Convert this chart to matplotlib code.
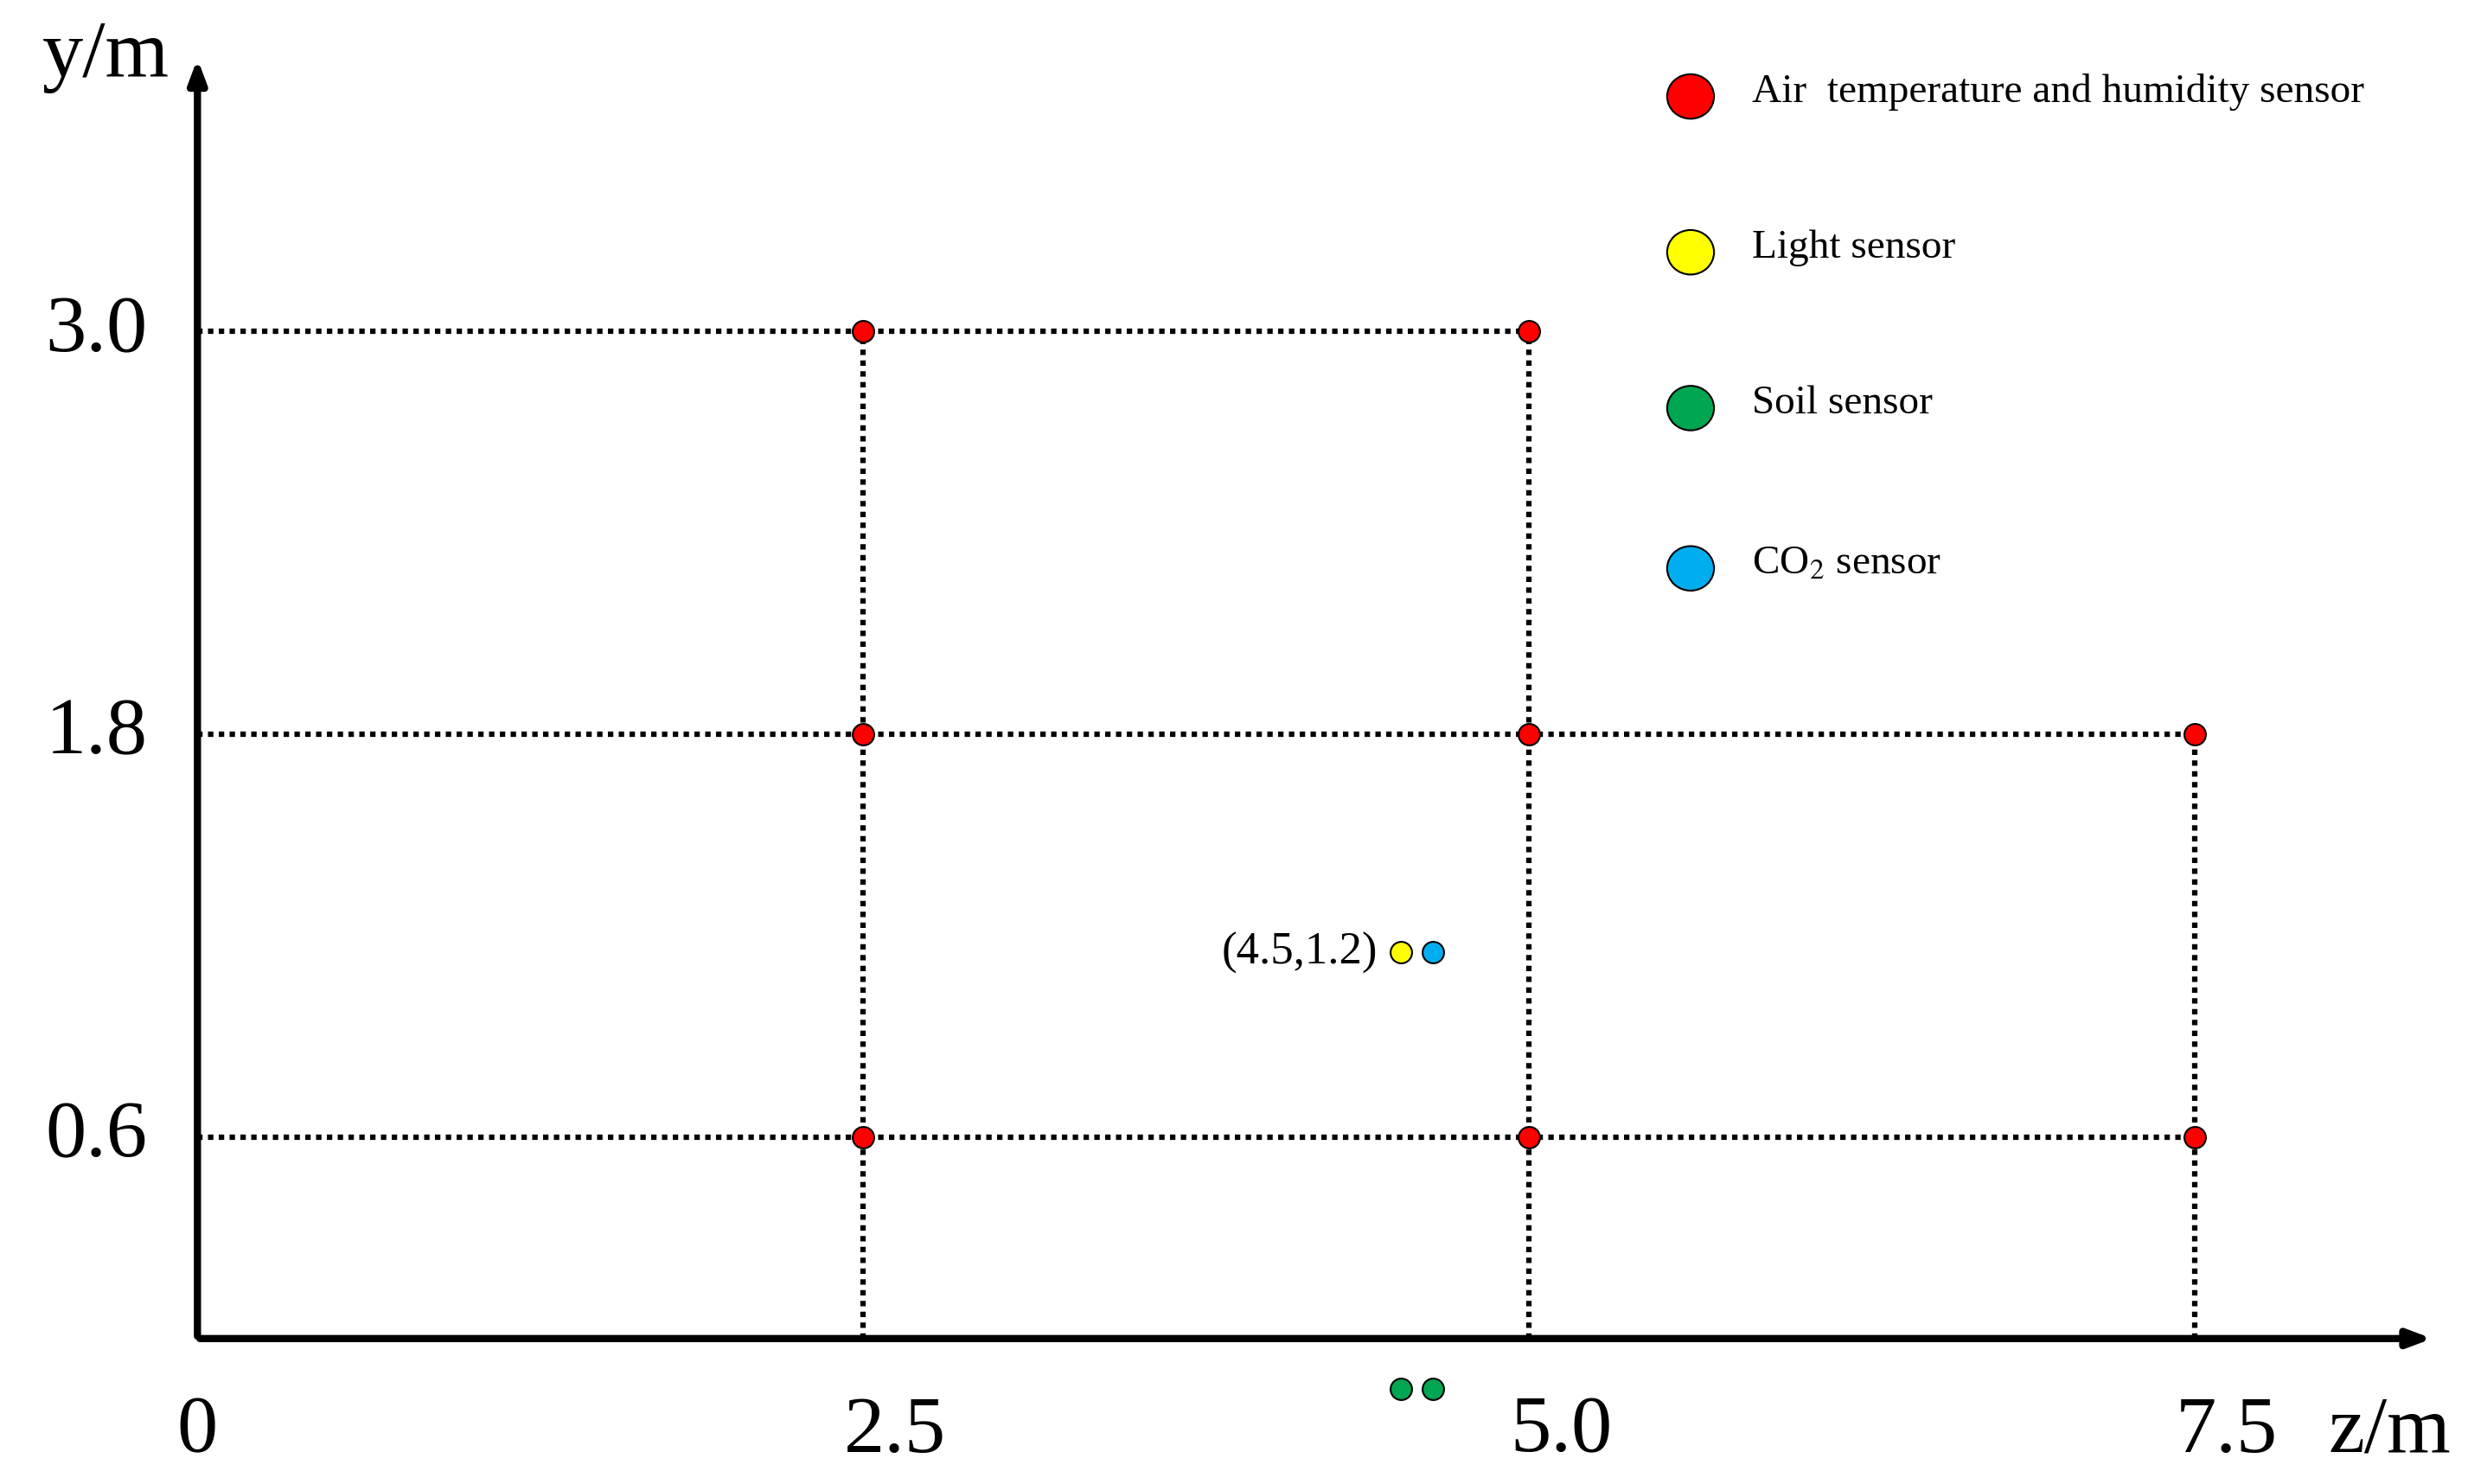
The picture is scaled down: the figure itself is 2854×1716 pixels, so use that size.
import matplotlib
matplotlib.use("Agg")
import matplotlib.pyplot as plt

plt.rcParams['font.family'] = ['Liberation Serif', 'DejaVu Serif']
plt.rcParams['mathtext.fontset'] = 'stix'

z_ticks = [0, 2.5, 5.0, 7.5]
z_labels = ["0", "2.5", "5.0", "7.5"]
y_ticks = [0.6, 1.8, 3.0]
y_labels = ["0.6", "1.8", "3.0"]
air_z = [2.5, 5.0, 2.5, 5.0, 7.5, 2.5, 5.0, 7.5]
air_y = [3.0, 3.0, 1.8, 1.8, 1.8, 0.6, 0.6, 0.6]
light_pt = (4.52, 1.15)
co2_pt = (4.64, 1.15)
soil_z = [4.52, 4.64]
soil_y = [-0.15, -0.15]
legend_labels = ["Air  temperature and humidity sensor", "Light sensor", "Soil sensor", "CO$_2$ sensor"]
legend_colors = ["#ff0000", "#ffff00", "#00a651", "#00aeef"]

fig = plt.figure(figsize=(28.54, 17.16), dpi=100)
ax = fig.add_axes([0.08, 0.098, 0.9, 0.855])
ax.set_xlim(0, 8.34)
ax.set_ylim(0, 3.78)
ax.axis('off')

ax.annotate("", xy=(8.4, 0), xytext=(0, 0), annotation_clip=False,
            arrowprops=dict(arrowstyle="-|>,head_length=1.6,head_width=0.6", lw=6, color="black"))
ax.annotate("", xy=(0, 3.82), xytext=(0, 0), annotation_clip=False,
            arrowprops=dict(arrowstyle="-|>,head_length=1.6,head_width=0.6", lw=6, color="black"))

ls = dict(color="black", lw=4.5, ls=(0, (1.0, 1.0)))
ax.plot([0, 5.0], [3.0, 3.0], **ls)
ax.plot([0, 7.5], [1.8, 1.8], **ls)
ax.plot([0, 7.5], [0.6, 0.6], **ls)
ax.plot([2.5, 2.5], [0, 3.0], **ls)
ax.plot([5.0, 5.0], [0, 3.0], **ls)
ax.plot([7.5, 7.5], [0, 1.8], **ls)

ax.scatter(air_z, air_y, s=320, c=legend_colors[0], edgecolors="black", linewidths=1.5, zorder=5)
ax.scatter([light_pt[0]], [light_pt[1]], s=320, c=legend_colors[1], edgecolors="black", linewidths=1.5, zorder=5)
ax.scatter([co2_pt[0]], [co2_pt[1]], s=320, c=legend_colors[3], edgecolors="black", linewidths=1.5, zorder=5)
ax.scatter(soil_z, soil_y, s=320, c=legend_colors[2], edgecolors="black", linewidths=1.5, zorder=5, clip_on=False)
ax.text(light_pt[0] - 0.09, light_pt[1], "(4.5,1.2)", fontsize=38, ha="right", va="center")

for v, lab in zip(z_ticks, z_labels):
    ax.text(v + (0.12 if v > 0 else 0), -0.17, lab, fontsize=68, ha="center", va="top")
for v, lab in zip(y_ticks, y_labels):
    ax.text(-0.38, v, lab, fontsize=68, ha="center", va="center")
ax.text(8.0, -0.17, "z/m", fontsize=68, ha="left", va="top")
fig.text(0.043, 0.962, "y/m", fontsize=68, ha="center", va="center")

ly = [0.935, 0.83, 0.725, 0.617]
for y, lab, col in zip(ly, legend_labels, legend_colors):
    fig.patches.append(matplotlib.patches.Ellipse((0.685, y), 0.019, 0.03, transform=fig.transFigure,
                                                  facecolor=col, edgecolor="black", lw=1.5))
    fig.text(0.71, y + 0.003, lab, fontsize=34, ha="left", va="center")

fig.savefig("out.png", dpi=100)
